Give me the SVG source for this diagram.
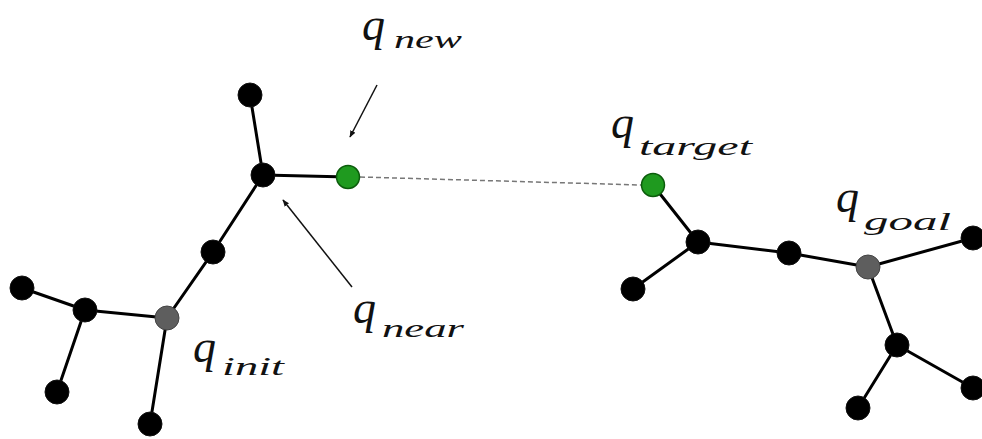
<svg xmlns="http://www.w3.org/2000/svg" width="982" height="439" viewBox="0 0 982 439">
<defs>
<style>
.e{stroke:#000;stroke-width:3;fill:none;stroke-linecap:round}
.n{fill:#000;stroke:#111;stroke-width:1}
.g{fill:#5e5e5e;stroke:#444;stroke-width:1}
.t{fill:#1f9a1f;stroke:#0c5c0c;stroke-width:1.5}
.ar{stroke:#111;stroke-width:1.5;fill:none;marker-end:url(#ah)}
.d{stroke:#777;stroke-width:1.5;stroke-dasharray:5 3;fill:none}
</style>
<marker id="ah" viewBox="0 0 10 10" refX="9" refY="5" markerWidth="7" markerHeight="7" orient="auto" markerUnits="userSpaceOnUse">
<path d="M0,1 L10,5 L0,9 z" fill="#111"/>
</marker>
</defs>
<rect width="982" height="439" fill="#fff"/>
<g id="connectors">
<line class="e" x1="250" y1="95" x2="263" y2="175"/>
<line class="e" x1="263" y1="175" x2="348" y2="177"/>
<line class="e" x1="263" y1="175" x2="213" y2="252"/>
<line class="e" x1="213" y1="252" x2="167" y2="318"/>
<line class="e" x1="167" y1="318" x2="85" y2="310"/>
<line class="e" x1="85" y1="310" x2="22" y2="288"/>
<line class="e" x1="85" y1="310" x2="57" y2="392"/>
<line class="e" x1="167" y1="318" x2="150" y2="424"/>
<line class="e" x1="653" y1="185" x2="698" y2="242"/>
<line class="e" x1="698" y1="242" x2="633" y2="289"/>
<line class="e" x1="698" y1="242" x2="789" y2="253"/>
<line class="e" x1="789" y1="253" x2="868" y2="267"/>
<line class="e" x1="868" y1="267" x2="973" y2="238"/>
<line class="e" x1="868" y1="267" x2="897" y2="345"/>
<line class="e" x1="897" y1="345" x2="973" y2="388"/>
<line class="e" x1="897" y1="345" x2="858" y2="408"/>
<line class="d" x1="360" y1="177" x2="641" y2="185"/>
<line class="ar" x1="377" y1="85" x2="350" y2="137"/>
<line class="ar" x1="352" y1="287" x2="283" y2="200"/>
</g>
<g id="n1"><circle class="n" cx="250" cy="95" r="12"/></g>
<g id="qnear-node"><circle class="n" cx="263" cy="175" r="12"/></g>
<g id="qnew-node"><circle class="t" cx="348" cy="177" r="11.5"/></g>
<g id="n3"><circle class="n" cx="213" cy="252" r="12"/></g>
<g id="qinit-node"><circle class="g" cx="167" cy="318" r="12"/></g>
<g id="n4"><circle class="n" cx="85" cy="310" r="12"/></g>
<g id="n5"><circle class="n" cx="22" cy="288" r="12"/></g>
<g id="n6"><circle class="n" cx="57" cy="392" r="12"/></g>
<g id="n7"><circle class="n" cx="150" cy="424" r="12"/></g>
<g id="qtarget-node"><circle class="t" cx="653" cy="185" r="11.5"/></g>
<g id="m1"><circle class="n" cx="698" cy="242" r="12"/></g>
<g id="m2"><circle class="n" cx="633" cy="289" r="12"/></g>
<g id="m3"><circle class="n" cx="789" cy="253" r="12"/></g>
<g id="qgoal-node"><circle class="g" cx="868" cy="267" r="12"/></g>
<g id="m4"><circle class="n" cx="973" cy="238" r="12"/></g>
<g id="m5"><circle class="n" cx="897" cy="345" r="12"/></g>
<g id="m6"><circle class="n" cx="973" cy="388" r="12"/></g>
<g id="m7"><circle class="n" cx="858" cy="408" r="12"/></g>
<g fill="#111" font-family="'Liberation Serif', 'DejaVu Serif', serif" font-style="italic">
<g id="label-new"><text font-size="46" x="362" y="40">q</text><text font-size="25" x="394" y="48" textLength="68" lengthAdjust="spacingAndGlyphs">new</text></g>
<g id="label-target"><text font-size="46" x="611" y="138">q</text><text font-size="25" x="639" y="155" textLength="113" lengthAdjust="spacingAndGlyphs">target</text></g>
<g id="label-goal"><text font-size="46" x="836" y="212">q</text><text font-size="25" x="864" y="230" textLength="87" lengthAdjust="spacingAndGlyphs">goal</text></g>
<g id="label-init"><text font-size="46" x="193" y="362">q</text><text font-size="25" x="222" y="375" textLength="62" lengthAdjust="spacingAndGlyphs">init</text></g>
<g id="label-near"><text font-size="46" x="353" y="323">q</text><text font-size="25" x="382" y="337" textLength="82" lengthAdjust="spacingAndGlyphs">near</text></g>
</g>
</svg>
